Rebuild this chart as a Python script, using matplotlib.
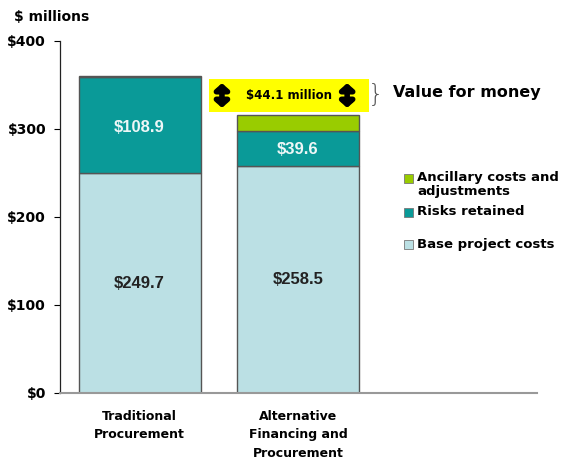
import numpy as np
import matplotlib.pyplot as plt
from matplotlib.patches import Rectangle

# data ($ millions)
categories = ["Traditional\nProcurement", "Alternative\nFinancing and\nProcurement"]
base_costs = [249.7, 258.5]
risks_retained = [108.9, 39.6]
ancillary = [1.5, 17.9]
vfm_label = "$44.1 million"
y_ticks = [0, 100, 200, 300, 400]
y_tick_labels = ["$0", "$100", "$200", "$300", "$400"]
legend_labels = ["Ancillary costs and\nadjustments", "Risks retained", "Base project costs"]

c_base = "#bbe0e4"
c_risk = "#0a9a98"
c_anc = "#99cc00"
edge = "#555555"

fig = plt.figure(figsize=(5.68, 4.62), dpi=100)
ax = fig.add_axes([60 / 568, 69 / 462, 477 / 568, 352 / 462])

x = np.arange(len(categories))
w = 0.77
ax.bar(x, base_costs, w, color=c_base, edgecolor=edge, linewidth=1)
ax.bar(x, risks_retained, w, bottom=base_costs, color=c_risk, edgecolor=edge, linewidth=1)
bottom2 = np.array(base_costs) + np.array(risks_retained)
ax.bar(x, ancillary, w, bottom=bottom2, color=c_anc, edgecolor=edge, linewidth=1)

# value labels inside bars
for i in range(len(x)):
    ax.text(x[i], base_costs[i] / 2, "$%.1f" % base_costs[i], ha="center", va="center",
            fontsize=12, fontweight="bold", family="Liberation Sans", color="#222222")
    ax.text(x[i], base_costs[i] + risks_retained[i] / 2 - 2, "$%.1f" % risks_retained[i],
            ha="center", va="center", fontsize=12, fontweight="bold",
            family="Liberation Sans", color="#eef7f7")

ax.set_xlim(-0.502, 2.508)
ax.set_ylim(0, 400)
ax.set_yticks(y_ticks)
ax.set_yticklabels(y_tick_labels, fontsize=10, fontweight="heavy")
ax.set_xticks(x)
ax.set_xticklabels(categories, fontsize=9, fontweight="heavy", va="top", linespacing=1.55)
ax.tick_params(axis="x", length=0, pad=12)
ax.tick_params(axis="y", length=4, width=0.8, direction="out", pad=6)

for s in ["top", "right"]:
    ax.spines[s].set_visible(False)
ax.spines["left"].set_color("#222222")
ax.spines["left"].set_linewidth(0.9)
ax.spines["bottom"].set_color("#999999")
ax.spines["bottom"].set_linewidth(1.5)

fig.text(14 / 568, 1 - 17 / 462, "$ millions", fontsize=10, fontweight="heavy", va="center")

# value for money highlight
tot_trad = bottom2[0] + ancillary[0]
tot_alt = bottom2[1] + ancillary[1]
ax.add_patch(Rectangle((0.44, tot_alt + 3.3), 1.008, tot_trad - tot_alt - 6.3,
                       facecolor="#ffff00", edgecolor="none", zorder=3))
ymid = (tot_trad + tot_alt) / 2
ax.text(0.945, ymid, vfm_label, ha="center", va="center", fontsize=8.5, fontweight="heavy", zorder=4)
for xa in [0.52, 1.31]:
    ax.annotate("", xy=(xa, ymid + 14), xytext=(xa, ymid - 14),
                arrowprops=dict(arrowstyle="<|-|>,head_width=0.4,head_length=0.35", lw=4,
                                color="black", shrinkA=0, shrinkB=0), zorder=5)
ax.text(1.49, ymid + 1, "}", ha="center", va="center", fontsize=18, color="#555555",
        fontweight="light")
ax.text(1.60, ymid + 3, "Value for money", ha="left", va="center", fontsize=11.5, fontweight="heavy")

# legend, placed by hand like the original
leg_colors = [c_anc, c_risk, c_base]
leg_y = [178, 212, 245]
for lab, col, yy in zip(legend_labels, leg_colors, leg_y):
    fig.patches.append(Rectangle((404 / 568, 1 - (yy + 4.5) / 462), 9 / 568, 9 / 462,
                                 transform=fig.transFigure, facecolor=col,
                                 edgecolor="#777777", linewidth=0.6))
    fig.text(417 / 568, 1 - (yy - 7) / 462, lab, fontsize=9.5, fontweight="heavy",
             va="top", ha="left", linespacing=1.05)

fig.savefig("out.png", dpi=100)
